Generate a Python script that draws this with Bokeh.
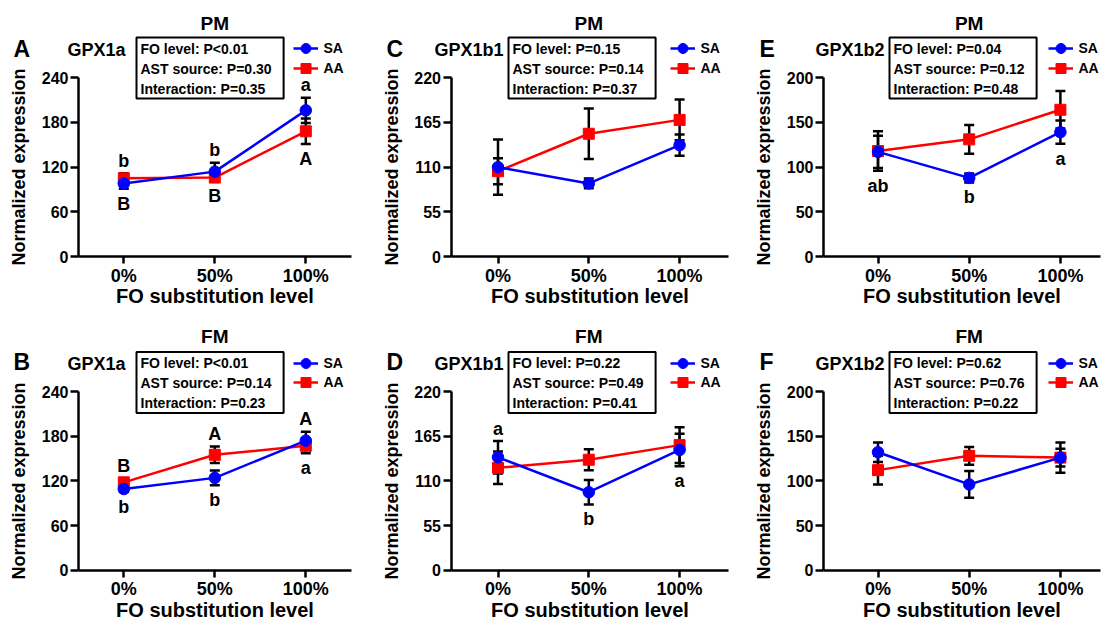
from bokeh.plotting import figure
from bokeh.models import (Range1d, FixedTicker, Label, Legend, LegendItem,
                          Whisker, TeeHead, ColumnDataSource)
from bokeh.layouts import column, row
from bokeh.embed import file_html
from bokeh.resources import INLINE
from bokeh.core.properties import value

# ---------------- data ----------------
levels = ["0%", "50%", "100%"]
x_pos = [0, 1, 2]

panel_letters = ["A", "C", "E", "B", "D", "F"]
tissues = ["PM", "PM", "PM", "FM", "FM", "FM"]
genes = ["GPX1a", "GPX1b1", "GPX1b2", "GPX1a", "GPX1b1", "GPX1b2"]
fo_p = ["P<0.01", "P=0.15", "P=0.04", "P<0.01", "P=0.22", "P=0.62"]
ast_p = ["P=0.30", "P=0.14", "P=0.12", "P=0.14", "P=0.49", "P=0.76"]
int_p = ["P=0.35", "P=0.37", "P=0.48", "P=0.23", "P=0.41", "P=0.22"]
y_max = [240, 220, 200, 240, 220, 200]
y_step = [60, 55, 50, 60, 55, 50]
series_names = ["SA", "AA"]

sa_mean_A = [98, 114, 196]
sa_err_A = [7, 12, 17]
aa_mean_A = [105, 106, 168]
aa_err_A = [7, 5, 17]

sa_mean_C = [110, 90, 137]
sa_err_C = [34, 6, 13]
aa_mean_C = [105, 151, 168]
aa_err_C = [16, 31, 25]

sa_mean_E = [117, 88, 139]
sa_err_E = [18, 5, 13]
aa_mean_E = [118, 131, 164]
aa_err_E = [22, 16, 21]

sa_mean_B = [109, 124, 174]
sa_err_B = [4, 10, 12]
aa_mean_B = [118, 155, 167]
aa_err_B = [5, 11, 10]

sa_mean_D = [139, 96, 148]
sa_err_D = [20, 15, 20]
aa_mean_D = [126, 136, 154]
aa_err_D = [20, 13, 22]

sa_mean_F = [132, 96, 126]
sa_err_F = [11, 15, 17]
aa_mean_F = [112, 128, 126]
aa_err_F = [16, 10, 10]

above_A = ["b", "b", "a"]
below_A = ["B", "B", "A"]
above_C = ["", "", ""]
below_C = ["", "", ""]
above_E = ["", "", ""]
below_E = ["ab", "b", "a"]
above_B = ["B", "A", "A"]
below_B = ["b", "b", "a"]
above_D = ["a", "", ""]
below_D = ["", "b", "a"]
above_F = ["", "", ""]
below_F = ["", "", ""]

series = {
    "A": (sa_mean_A, sa_err_A, aa_mean_A, aa_err_A, above_A, below_A),
    "C": (sa_mean_C, sa_err_C, aa_mean_C, aa_err_C, above_C, below_C),
    "E": (sa_mean_E, sa_err_E, aa_mean_E, aa_err_E, above_E, below_E),
    "B": (sa_mean_B, sa_err_B, aa_mean_B, aa_err_B, above_B, below_B),
    "D": (sa_mean_D, sa_err_D, aa_mean_D, aa_err_D, above_D, below_D),
    "F": (sa_mean_F, sa_err_F, aa_mean_F, aa_err_F, above_F, below_F),
}

# ---------------- layout / style (page pixel geometry) ----------------
FONT = "Liberation Sans"
SA_COLOR = "#0000FF"
AA_COLOR = "#FF0000"

COLS = [
    dict(X0=0, W=378, axis=78, cat0=123.3, ppc=91.0, right=351, letter=13, gene_r=125, box=136, leg_marker=305),
    dict(X0=378, W=370, axis=450.5, cat0=497.5, ppc=90.8, right=728, letter=386, gene_r=503, box=508, leg_marker=682),
    dict(X0=748, W=355, axis=823, cat0=877.5, ppc=91.2, right=1100, letter=759, gene_r=884, box=889, leg_marker=1060),
]
ROWS = [
    dict(Y0=0, H=314, top=77, zero=256.3, title=22.5, letter=48, gene=49, box_top=37, leg_y=(48, 68)),
    dict(Y0=314, H=307, top=391, zero=569.7, title=336, letter=361, gene=363, box_top=351.5, leg_y=(363, 382)),
]
LEG_GW, LEG_GH = 25, 26


def make_panel(i):
    ci, ri = i % 3, i // 3
    cg, rg = COLS[ci], ROWS[ri]
    key = panel_letters[i]
    sa, sa_e, aa, aa_e, above, below = series[key]
    ymax = y_max[i]
    ppc = cg["ppc"]
    ppy = (rg["zero"] - rg["top"]) / ymax

    def X(page_x):
        return (page_x - cg["cat0"]) / ppc

    def Y(page_y):
        return (rg["zero"] - page_y) / ppy

    p = figure(width=cg["W"], height=rg["H"],
               min_border_left=0, min_border_right=0, min_border_top=0, min_border_bottom=0,
               x_range=Range1d(X(cg["X0"]), X(cg["X0"] + cg["W"])),
               y_range=Range1d(Y(rg["Y0"] + rg["H"]), Y(rg["Y0"])),
               output_backend="svg", toolbar_location=None, tools="")
    p.outline_line_color = None
    p.background_fill_color = "white"
    p.border_fill_color = "white"
    p.xgrid.visible = False
    p.ygrid.visible = False

    for ax in p.axis:
        ax.axis_line_width = 2.5
        ax.axis_line_color = "black"
        ax.major_tick_line_width = 2.5
        ax.major_tick_line_color = "black"
        ax.major_tick_in = 0
        ax.minor_tick_line_color = None
        ax.major_label_text_font = FONT
        ax.major_label_text_font_style = "bold"
        ax.major_label_text_color = "black"
        ax.axis_label_text_font = FONT
        ax.axis_label_text_font_style = "bold"
        ax.axis_label_text_color = "black"

    p.xaxis.ticker = FixedTicker(ticks=x_pos)
    p.xaxis.major_label_overrides = {k: v for k, v in zip(x_pos, levels)}
    p.xaxis.major_tick_out = 7
    p.xaxis.major_label_standoff = 2
    p.xaxis.major_label_text_font_size = "18px"
    p.xaxis.axis_label = "FO substitution level"
    p.xaxis.axis_label_text_font_size = "20px"
    p.xaxis.axis_label_standoff = -4
    p.xaxis.fixed_location = 0
    p.xaxis.bounds = (X(cg["axis"]), X(cg["right"]))

    p.yaxis.ticker = FixedTicker(ticks=list(range(0, ymax + 1, y_step[i])))
    p.yaxis.major_tick_out = 8
    p.yaxis.major_label_standoff = 2
    p.yaxis.major_label_text_font_size = "16px"
    p.yaxis.axis_label = "Normalized expression"
    p.yaxis.axis_label_text_font_size = "18px"
    p.yaxis.axis_label_standoff = 10
    p.yaxis.fixed_location = X(cg["axis"])
    p.yaxis.bounds = (0, ymax)

    # data
    src_sa = ColumnDataSource(dict(x=x_pos, y=sa,
                                   upper=[m + e for m, e in zip(sa, sa_e)],
                                   lower=[m - e for m, e in zip(sa, sa_e)]))
    src_aa = ColumnDataSource(dict(x=x_pos, y=aa,
                                   upper=[m + e for m, e in zip(aa, aa_e)],
                                   lower=[m - e for m, e in zip(aa, aa_e)]))

    l_aa = p.line("x", "y", source=src_aa, line_color=AA_COLOR, line_width=2.5)
    s_aa = p.scatter("x", "y", source=src_aa, marker="square", size=11,
                     fill_color=AA_COLOR, line_color=AA_COLOR)
    l_sa = p.line("x", "y", source=src_sa, line_color=SA_COLOR, line_width=2.5)
    s_sa = p.scatter("x", "y", source=src_sa, marker="circle", size=11.5,
                     fill_color=SA_COLOR, line_color=SA_COLOR)

    for src in (src_aa, src_sa):
        w = Whisker(base="x", upper="upper", lower="lower", source=src,
                    line_color="black", line_width=2.5,
                    upper_head=TeeHead(size=10, line_color="black", line_width=2.5),
                    lower_head=TeeHead(size=10, line_color="black", line_width=2.5))
        p.add_layout(w)

    # significance letters
    tx, ty, tt = [], [], []
    for k in range(3):
        top = max(sa[k] + sa_e[k], aa[k] + aa_e[k])
        bot = min(sa[k] - sa_e[k], aa[k] - aa_e[k])
        if above[k]:
            tx.append(x_pos[k]); ty.append(top + 12.5 / ppy); tt.append(above[k])
        if below[k]:
            tx.append(x_pos[k]); ty.append(bot - 15 / ppy); tt.append(below[k])
    if tt:
        p.text(x="x", y="y", text="text", source=ColumnDataSource(dict(x=tx, y=ty, text=tt)),
               text_font=value(FONT), text_font_style="bold", text_font_size="18px",
               text_align="center", text_baseline="middle", text_color="black")

    # headers
    p.add_layout(Label(x=1, y=Y(rg["title"]), text=tissues[i], text_align="center",
                       text_baseline="middle", text_font=FONT, text_font_style="bold",
                       text_font_size="19px", text_color="black"))
    p.add_layout(Label(x=X(cg["letter"]), y=Y(rg["letter"]), text=key, text_align="left",
                       text_baseline="middle", text_font=FONT, text_font_style="bold",
                       text_font_size="23px", text_color="black"))
    p.add_layout(Label(x=X(cg["gene_r"]), y=Y(rg["gene"]), text=genes[i], text_align="right",
                       text_baseline="middle", text_font=FONT, text_font_style="bold",
                       text_font_size="18px", text_color="black"))
    box_text = "FO level: %s\nAST source: %s\nInteraction: %s" % (fo_p[i], ast_p[i], int_p[i])
    p.add_layout(Label(x=X(cg["box"]), y=Y(rg["box_top"]), text=box_text, text_align="left",
                       text_baseline="top", text_font=FONT, text_font_style="bold",
                       text_font_size="14px", text_line_height=1.25, text_color="black",
                       border_line_color="black", border_line_width=2,
                       background_fill_color="white",
                       padding=dict(left=4, right=12, top=3, bottom=2)))

    # legend: one Legend per series so the rows sit close together
    for name, rends, cy in zip(series_names, ([l_sa, s_sa], [l_aa, s_aa]), rg["leg_y"]):
        leg_top = cy - LEG_GH / 2
        legend = Legend(items=[LegendItem(label=name, renderers=rends)],
                        location=(cg["leg_marker"] - LEG_GW / 2 - cg["X0"],
                                  rg["Y0"] + rg["H"] - (leg_top + LEG_GH)),
                        glyph_width=LEG_GW, glyph_height=LEG_GH, spacing=0,
                        padding=0, margin=0, label_standoff=6, label_height=20,
                        label_text_font=FONT, label_text_font_style="bold",
                        label_text_font_size="14px", label_text_color="black",
                        border_line_color=None, background_fill_alpha=0)
        p.add_layout(legend)
    return p


panels = [make_panel(i) for i in range(6)]
layout = column(row(*panels[:3]), row(*panels[3:]))
open("out.html", "w").write(file_html(layout, INLINE))
